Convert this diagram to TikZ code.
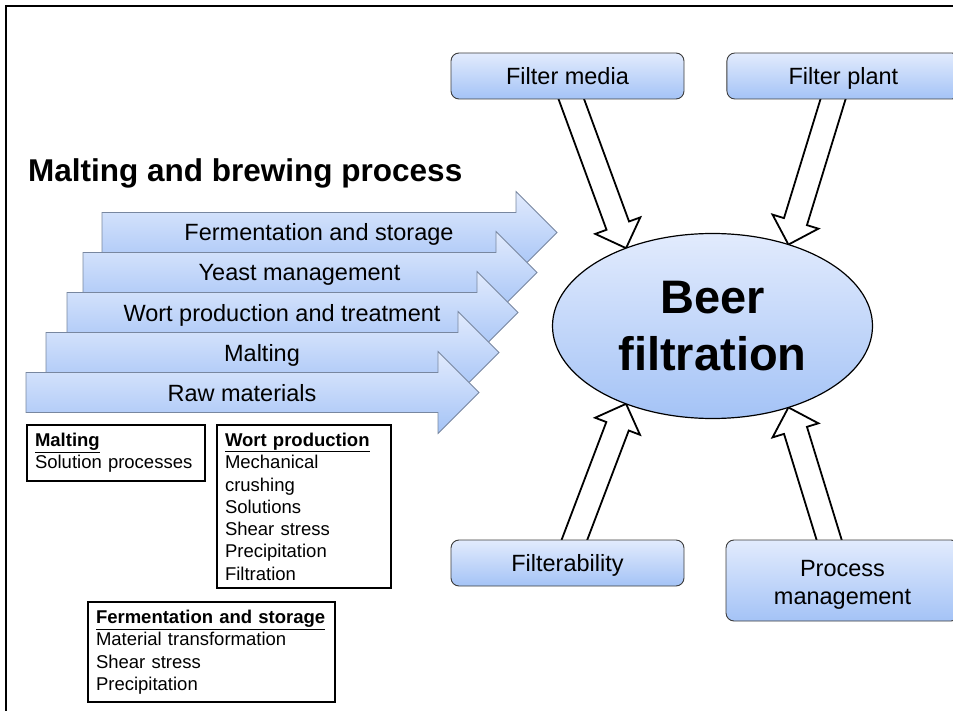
\documentclass[tikz,border=0pt]{standalone}
\usepackage{fontspec}
\setmainfont{Liberation Sans}
\usetikzlibrary{shapes.geometric,positioning,calc,backgrounds}
\definecolor{shadetop}{RGB}{226,235,253}
\definecolor{shadebot}{RGB}{164,195,246}
\definecolor{arrowline}{RGB}{120,135,160}
\definecolor{boxline}{RGB}{60,60,60}

% open block arrow from #1 to #2
\newcommand{\hollowarrow}[2]{%
  \coordinate (hb) at ($(#2)!24pt!(#1)$);
  \draw[hollow] ($(#1)!12pt!90:(#2)$) -- ($(hb)!12pt!-90:(#1)$) -- ($(hb)!24pt!-90:(#1)$) -- (#2)
    -- ($(hb)!24pt!90:(#1)$) -- ($(hb)!12pt!90:(#1)$) -- ($(#1)!12pt!-90:(#2)$) -- cycle;
}

\begin{document}
\begin{tikzpicture}[
    x=1pt, y=-1pt,
    lbl/.style={font=\fontsize{23.5}{28}\selectfont, inner sep=0pt},
    procarrow/.style={draw=arrowline, line width=0.8pt, top color=shadetop, bottom color=shadebot},
    rbox/.style={rectangle, rounded corners=8pt, draw=boxline, line width=0.9pt, top color=shadetop, bottom color=shadebot, minimum width=233pt, align=center, font=\fontsize{23.5}{28}\selectfont},
    oneline/.style={text height=17pt, text depth=0pt},
    notebox/.style={rectangle, draw=black, line width=2pt, fill=white, anchor=north west, align=left, inner xsep=8pt, inner ysep=8pt, font=\fontsize{18.5}{22.3}\selectfont},
    hollow/.style={draw=black, line width=1.8pt, fill=white, line join=miter}
]
    \useasboundingbox (0,0) rectangle (953,711);
    \clip (0,0) rectangle (953,711);

    % Frame
    \draw[line width=2.5pt] (6,711) -- (6,6) -- (953,6);

    % Title
    \node[font=\bfseries\fontsize{31.5}{36}\selectfont, anchor=base west, inner sep=0pt] (title) at (28,182) {Malting and brewing process};

    % Process arrows
    \foreach \nm/\lft/\tip/\yc/\txt in {ferm/102/557/232.5/Fermentation and storage,
        yeast/83/537/272.5/Yeast management, wort/67/518/312.5/Wort production and treatment,
        malt/46/499/352.5/Malting, raw/26/479/392.5/Raw materials} {
      \draw[procarrow] (\lft,\yc-20) -- (\tip-41,\yc-20) -- (\tip-41,\yc-41) -- (\tip,\yc)
        -- (\tip-41,\yc+41) -- (\tip-41,\yc+20) -- (\lft,\yc+20) -- cycle;
      \node[lbl, anchor=base] (\nm) at ({(\lft+\tip-41)/2+10},\yc+8.5) {\txt};
    }

    % Centre: Beer filtration
    \node[ellipse, draw=black, line width=1.2pt, top color=shadetop, bottom color=shadebot,
          minimum width=320pt, minimum height=185pt, inner sep=0pt, outer sep=0pt, align=center,
          font=\bfseries\fontsize{47}{57}\selectfont] (beer) at (712.5,326) {Beer\\filtration};

    % Influences
    \node[rbox, oneline, minimum height=46pt] (fmedia) at (567.5,76) {Filter media};
    \node[rbox, oneline, minimum height=46pt, right=42pt of fmedia] (fplant) {Filter plant};
    \node[rbox, oneline, minimum height=46pt] (filt) at (567.5,563) {Filterability};
    \node[rbox, minimum height=81pt] (procm) at (842.5,580.5) {\rule{0pt}{24pt}Process\\management};

    % Notes
    \node[notebox, text width=162pt] (nmalt) at (26,424) {\textbf{\underline{Malting}}\\Solution processes};
    \node[notebox, text width=158pt] (nwort) at (216,424) {\textbf{\underline{Wort production}}\\Mechanical\\crushing\\Solutions\\Shear stress\\Precipitation\\Filtration};
    \node[notebox, text width=231pt] (nferm) at (87,601) {\textbf{\underline{Fermentation and storage}}\\Material transformation\\Shear stress\\Precipitation};

    % Open arrows into the ellipse
    \begin{scope}[on background layer]
      \coordinate (fm-out) at ($(fmedia.south)+(1,-8)$);
      \coordinate (fp-out) at ($(fplant.south)+(-8,-8)$);
      \coordinate (fi-out) at ($(filt.north)+(4,8)$);
      \coordinate (pm-out) at ($(procm.north)+(-11,8)$);
      \hollowarrow{fm-out}{beer.138}
      \hollowarrow{fp-out}{beer.47}
      \hollowarrow{fi-out}{beer.222}
      \hollowarrow{pm-out}{beer.313}
    \end{scope}
\end{tikzpicture}
\end{document}
